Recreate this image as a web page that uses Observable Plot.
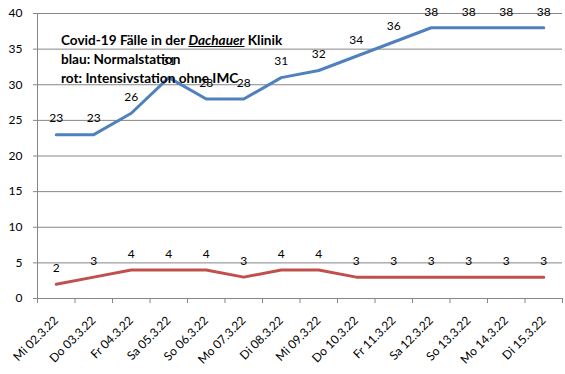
<!DOCTYPE html>
<html><head><meta charset="utf-8">
<script src="https://cdn.jsdelivr.net/npm/d3@7"></script>
<script src="https://cdn.jsdelivr.net/npm/@observablehq/plot@0.6"></script>
<style>
body{margin:0;background:#fff;}
#wrap{position:relative;width:565px;height:374px;}
#note{position:absolute;left:61px;top:31px;font-family:Lato,sans-serif;font-weight:bold;font-size:13.6px;line-height:19px;color:#000;white-space:nowrap;}
#note i{text-decoration:underline;}
</style></head>
<body><div id="wrap"><div id="note">Covid-19 Fälle in der <i>Dachauer</i> Klinik<br>blau: Normalstation<br>rot: Intensivstation ohne IMC</div></div>
<script>
const dates = ["Mi 02.3.22","Do 03.3.22","Fr 04.3.22","Sa 05.3.22","So 06.3.22","Mo 07.3.22","Di 08.3.22","Mi 09.3.22","Do 10.3.22","Fr 11.3.22","Sa 12.3.22","So 13.3.22","Mo 14.3.22","Di 15.3.22"];
const normal = [23,23,26,31,28,28,31,32,34,36,38,38,38,38];
const intensiv = [2,3,4,4,4,3,4,4,3,3,3,3,3,3];
const yTicks = [0,5,10,15,20,25,30,35,40];

const idx = dates.map((d,i)=>i);
const bounds = d3.range(dates.length+1).map(i=>i-0.5);
const grid = "#868686";
const chart = Plot.plot({
  width:565, height:374,
  marginLeft:37, marginRight:3, marginTop:13, marginBottom:76,
  x:{domain:[-0.5, dates.length-0.5]},
  y:{domain:[0,40]},
  style:{fontFamily:"Lato, sans-serif", fontSize:"12px", color:"#000", background:"#fff"},
  marks:[
    Plot.gridY(yTicks, {stroke:grid, strokeOpacity:1}),
    Plot.axisY(yTicks, {tickSize:4, tickPadding:11, stroke:grid, strokeOpacity:1, label:null}),
    Plot.ruleX([bounds[0]], {stroke:grid}),
    Plot.axisX(bounds, {tickSize:5, tickFormat:()=>"", stroke:grid, strokeOpacity:1, label:null}),
    Plot.axisX(idx, {tickSize:0, tickPadding:20, tickRotate:-45, tickFormat:i=>dates[i], label:null}),
    Plot.lineY(normal, {x:(d,i)=>i, y:d=>d, stroke:"#4f81bd", strokeWidth:3}),
    Plot.lineY(intensiv, {x:(d,i)=>i, y:d=>d, stroke:"#c0504d", strokeWidth:3}),
    Plot.text(normal, {x:(d,i)=>i, y:d=>d, text:d=>String(d), dy:-16, fill:"#000"}),
    Plot.text(intensiv, {x:(d,i)=>i, y:d=>d, text:d=>String(d), dy:-16, fill:"#000"})
  ]
});
document.getElementById("wrap").prepend(chart);
</script></body></html>
